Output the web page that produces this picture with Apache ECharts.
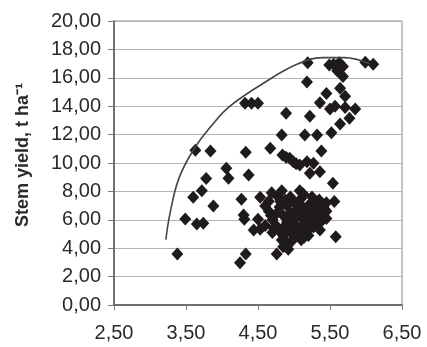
<!DOCTYPE html>
<html>
<head>
<meta charset="utf-8">
<script src="https://cdn.jsdelivr.net/npm/echarts@6/dist/echarts.min.js"></script>
<style>
  html, body { margin: 0; padding: 0; background: #fff; }
  #main { width: 427px; height: 347px; }
</style>
</head>
<body>
<div id="main"></div>
<script>
// measured points: [x value, stem yield t/ha]
var upperPoints = [
  [5.19, 17.06], [5.49, 16.9], [5.63, 17.06], [5.68, 16.8], [5.68, 16.1],
  [5.99, 17.1], [6.10, 16.95], [5.18, 15.7], [5.64, 15.26], [5.71, 14.7],
  [5.45, 14.9], [5.36, 14.25], [5.50, 13.8], [5.57, 14.0], [5.71, 13.9],
  [5.85, 13.8], [5.77, 13.15], [5.64, 12.75], [5.52, 12.13], [5.32, 11.97],
  [5.15, 11.97], [4.83, 11.97], [5.22, 13.3], [4.89, 13.5],
  [4.32, 14.2], [4.41, 14.2], [4.50, 14.2], [5.55, 16.95], [5.60, 16.5]
];
var midPoints = [
  [3.63, 10.9], [3.84, 10.85], [4.33, 10.75], [4.67, 11.03], [5.38, 10.85],
  [4.84, 10.56], [4.94, 10.33], [4.99, 10.09], [5.08, 9.86], [5.18, 10.09],
  [5.27, 9.98], [5.22, 9.27], [5.36, 9.39], [4.06, 9.63], [4.09, 8.92],
  [4.37, 9.15], [3.78, 8.9], [5.54, 8.57], [3.72, 8.05], [3.60, 7.58],
  [3.88, 6.97], [3.49, 6.06], [3.65, 5.7], [3.74, 5.75], [3.38, 3.59],
  [4.27, 7.44], [4.30, 6.34], [4.31, 6.03], [4.33, 3.59], [4.25, 2.98],
  [4.89, 10.4], [5.03, 9.95]
];
var clusterPoints = [
  [4.53, 7.58], [4.60, 6.97], [4.69, 7.91], [4.83, 8.05], [5.08, 8.05],
  [5.13, 7.82], [5.56, 7.28], [5.58, 4.81], [5.45, 6.1], [4.44, 5.28],
  [4.53, 5.33], [4.50, 6.03], [4.76, 3.59], [4.92, 3.92], [4.85, 4.1],
  [4.83, 4.58], [5.14, 4.77], [5.36, 5.28], [4.81, 7.28],
  [4.65, 6.6], [4.70, 6.0], [4.75, 5.6], [4.80, 6.9], [4.85, 6.3],
  [4.90, 5.8], [4.90, 7.0], [4.95, 6.5], [5.00, 6.0], [5.00, 7.2],
  [5.05, 5.5], [5.05, 6.8], [5.10, 6.2], [5.10, 7.5], [5.15, 5.8],
  [5.15, 6.6], [5.20, 7.0], [5.20, 5.3], [5.25, 6.3], [5.30, 6.9],
  [5.30, 5.7], [5.35, 6.5], [5.40, 6.0], [5.40, 7.0], [5.45, 6.6],
  [4.80, 5.2], [4.85, 4.9], [4.95, 5.2], [5.00, 4.8], [4.70, 5.1],
  [4.60, 5.6], [4.65, 7.3], [5.25, 7.6], [5.35, 7.4], [5.10, 4.6],
  [5.20, 4.9], [4.90, 4.4],
  [4.75, 6.4], [4.78, 7.6], [4.88, 7.4], [4.92, 6.1], [4.97, 5.5],
  [5.02, 6.4], [5.07, 7.1], [5.12, 5.2], [5.17, 6.1], [5.22, 6.7],
  [5.27, 5.5], [5.32, 6.2], [5.37, 5.9], [5.42, 6.8], [4.72, 5.4],
  [4.68, 6.3], [4.95, 7.6], [5.05, 5.1], [5.28, 7.2], [5.45, 7.2],
  [4.87, 5.5], [5.12, 6.9], [4.97, 4.5], [5.23, 5.9]
];
// envelope line
var envelope = [
  [3.22, 4.6], [3.28, 6.5], [3.40, 8.9], [3.60, 10.9], [3.85, 12.6],
  [4.11, 14.0], [4.57, 15.6], [5.04, 16.95], [5.40, 17.42], [5.70, 17.42],
  [6.05, 17.0]
];

var allPoints = upperPoints.concat(midPoints, clusterPoints);

function comma(v) {
  return v.toFixed(2).replace('.', ',');
}

var chart = echarts.init(document.getElementById('main'));
var textStyle = { fontFamily: 'Liberation Sans, Arial', fontSize: 20, color: '#2a2a2a' };

chart.setOption({
  animation: false,
  backgroundColor: '#fff',
  grid: {
    left: 114, right: 25, top: 21, bottom: 42,
    show: true, borderColor: '#8a8a8a', borderWidth: 1
  },
  xAxis: {
    type: 'value',
    min: 2.5, max: 6.5, interval: 1,
    axisLine: { show: true, lineStyle: { color: '#555', width: 1.5 } },
    axisTick: { show: true, inside: false, length: 5, lineStyle: { color: '#777' } },
    splitLine: { show: false },
    axisLabel: Object.assign({ margin: 18, formatter: comma }, textStyle)
  },
  yAxis: {
    type: 'value',
    min: 0, max: 20, interval: 2,
    name: 'Stem yield, t ha⁻¹',
    nameLocation: 'middle',
    nameGap: 82,
    nameTextStyle: { fontFamily: 'Liberation Sans, Arial', fontSize: 18, fontWeight: 'bold', color: '#2a2a2a', padding: [0, 0, 0, 16] },
    axisLine: { show: true, lineStyle: { color: '#555', width: 1.5 } },
    axisTick: { show: true, length: 6, lineStyle: { color: '#777' } },
    splitLine: { show: true, lineStyle: { color: '#b5b5b5', width: 1.2 } },
    axisLabel: Object.assign({ margin: 13, formatter: comma }, textStyle)
  },
  series: [
    {
      type: 'scatter',
      data: allPoints,
      symbol: 'diamond',
      symbolSize: [12, 13],
      itemStyle: { color: '#1f1b1c', opacity: 1 }
    },
    {
      type: 'line',
      data: envelope,
      smooth: 0.4,
      showSymbol: false,
      lineStyle: { color: '#444', width: 1.6 }
    }
  ]
});
</script>
</body>
</html>
